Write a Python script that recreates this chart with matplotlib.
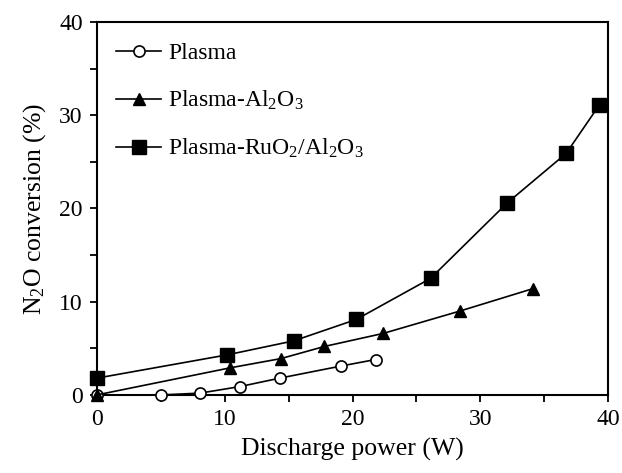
import matplotlib
matplotlib.use("Agg")
import matplotlib.pyplot as plt
from matplotlib.ticker import MultipleLocator

plt.rcParams['font.family'] = ['Liberation Serif', 'DejaVu Serif']
plt.rcParams['mathtext.fontset'] = 'custom'
plt.rcParams['mathtext.rm'] = 'Liberation Serif'
plt.rcParams['mathtext.it'] = 'Liberation Serif:italic'

# Data
plasma_x = [0, 5.0, 8.1, 11.2, 14.3, 19.1, 21.8]
plasma_y = [0, 0, 0.2, 0.9, 1.8, 3.1, 3.8]

al2o3_x = [0, 10.4, 14.4, 17.8, 22.4, 28.4, 34.1]
al2o3_y = [0, 2.9, 3.9, 5.2, 6.6, 9.0, 11.4]

ru_x = [0, 10.2, 15.4, 20.3, 26.1, 32.1, 36.7, 39.3]
ru_y = [1.8, 4.3, 5.8, 8.1, 12.5, 20.6, 25.9, 31.1]

labels = ['Plasma', 'Plasma-Al$_2$O$_3$', 'Plasma-RuO$_2$/Al$_2$O$_3$']

fig = plt.figure(figsize=(6.22, 4.73), dpi=100)
ax = fig.add_axes([0.1555, 0.165, 0.8225, 0.7885])

ax.plot(plasma_x, plasma_y, '-o', color='black', mfc='white', mec='black',
        markersize=8, lw=1.2, mew=1.2, label=labels[0], clip_on=False, zorder=3)
ax.plot(al2o3_x, al2o3_y, '-^', color='black', markersize=9, lw=1.2,
        label=labels[1], clip_on=False, zorder=3)
ax.plot(ru_x, ru_y, '-s', color='black', markersize=10, lw=1.2,
        label=labels[2], clip_on=False, zorder=3)

ax.set_xlim(0, 40)
ax.set_ylim(0, 40)
ax.xaxis.set_major_locator(MultipleLocator(10))
ax.xaxis.set_minor_locator(MultipleLocator(5))
ax.yaxis.set_major_locator(MultipleLocator(10))
ax.yaxis.set_minor_locator(MultipleLocator(5))
ax.tick_params(which='both', direction='out', length=5, width=1.3,
               labelsize=17, top=False, right=False, pad=5)
for s in ax.spines.values():
    s.set_linewidth(1.5)

ax.set_xlabel('Discharge power (W)', fontsize=18.5, labelpad=6)
ax.set_ylabel('N$_2$O conversion (%)', fontsize=18.5, labelpad=8)

leg = ax.legend(loc='upper left', frameon=False, fontsize=17,
                handlelength=1.9, handletextpad=0.3, labelspacing=1.05,
                borderaxespad=0.0, bbox_to_anchor=(0.02, 0.97))

fig.savefig('out.png', dpi=100)
